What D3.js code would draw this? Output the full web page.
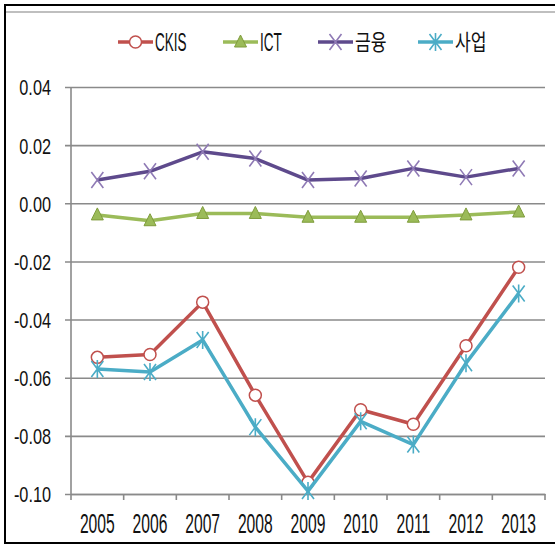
<!DOCTYPE html>
<html><head><meta charset="utf-8">
<script src="https://cdn.jsdelivr.net/npm/d3@7"></script>
<style>
body{margin:0;background:#fff;}
text{font-family:"Liberation Sans","Noto Sans CJK KR",sans-serif;fill:#111;}
</style></head>
<body><svg id="c" width="555" height="548"></svg>
<script>
const years = ["2005","2006","2007","2008","2009","2010","2011","2012","2013"];
const ckis = [-0.053,-0.052,-0.034,-0.066,-0.096,-0.071,-0.076,-0.049,-0.022];
const ict = [-0.004,-0.006,-0.0035,-0.0035,-0.0048,-0.0048,-0.0048,-0.004,-0.003];
const finance = [0.008,0.011,0.0177,0.0154,0.008,0.0085,0.012,0.009,0.012];
const business = [-0.057,-0.058,-0.047,-0.077,-0.099,-0.075,-0.083,-0.055,-0.031];
const yTicks = [0.04,0.02,0.00,-0.02,-0.04,-0.06,-0.08,-0.10];
const seriesNames = ["CKIS","ICT","금융","사업"];

const series = [
  {name:seriesNames[0], values:ckis, color:"#c0504d", marker:"circle"},
  {name:seriesNames[1], values:ict, color:"#9bbb59", marker:"triangle"},
  {name:seriesNames[2], values:finance, color:"#5e4a8c", mcolor:"#8f7ab5", marker:"x"},
  {name:seriesNames[3], values:business, color:"#4bacc6", marker:"star"}
];

const svg = d3.select("#c");
// frame
svg.append("rect").attr("x",5).attr("y",5).attr("width",560).attr("height",538)
  .attr("fill","none").attr("stroke","#000").attr("stroke-width",2);
svg.append("line").attr("x1",6).attr("x2",555).attr("y1",12).attr("y2",12)
  .attr("stroke","#aaa").attr("stroke-width",1.5);

const x = d3.scaleBand().domain(years).range([71,545]);
const y = d3.scaleLinear().domain([-0.10,0.04]).range([494,87]);

// gridlines + y labels
const yR = 0.74;
const yAxis = d3.axisLeft(y).tickValues(yTicks).tickSize(-(545-65)).tickPadding(0);
const gy = svg.append("g").attr("transform","translate(65,0)").call(yAxis);
gy.select(".domain").remove();
gy.selectAll(".tick line").attr("stroke","#8a8a8a").attr("stroke-width",1.6);
gy.selectAll(".tick text").attr("font-size",22).attr("x",0).attr("dy","0.36em")
  .attr("transform",`translate(-14,0) scale(${yR},1)`)
  .text(d=>d3.format(".2f")(d).replace("\u2212","-"));
// y axis line
svg.append("line").attr("x1",71).attr("x2",71).attr("y1",87).attr("y2",494).attr("stroke","#8a8a8a").attr("stroke-width",1.6);

// x axis
const xR = 0.58;
const xAxis = d3.axisBottom(x).tickSize(0);
const gx = svg.append("g").attr("transform","translate(0,494)").call(xAxis);
gx.select(".domain").attr("stroke","#8a8a8a").attr("stroke-width",1.6);
gx.selectAll(".tick text").attr("font-size",27).attr("y",0).attr("dy","0.36em")
  .attr("transform",`translate(0,29) scale(${xR},1)`);
// category boundary ticks
const bounds = years.map(d=>x(d)).concat([x.range()[1]]);
svg.append("g").selectAll("line").data(bounds).join("line")
  .attr("x1",d=>d).attr("x2",d=>d).attr("y1",494).attr("y2",500)
  .attr("stroke","#8a8a8a").attr("stroke-width",1.6);

const cx = d => x(d) + x.bandwidth()/2;
const line = d3.line().x((d,i)=>cx(years[i])).y(d=>y(d));

function drawMarker(g, type, color, mcolor){
  if(type==="circle"){
    g.append("circle").attr("r",6).attr("fill","#fff").attr("stroke",color).attr("stroke-width",1.5);
  } else if(type==="triangle"){
    g.append("path").attr("d","M0,-7L6,5L-6,5Z").attr("fill",color).attr("stroke","#7f9c3c").attr("stroke-width",1);
  } else if(type==="x"){
    g.append("path").attr("d","M-6,-8L6,8M6,-8L-6,8").attr("stroke",mcolor).attr("stroke-width",1.6);
  } else if(type==="star"){
    g.append("path").attr("d","M-6,-8L6,8M6,-8L-6,8M0,-9L0,9").attr("stroke",color).attr("stroke-width",1.6);
  }
}

series.forEach(s=>{
  svg.append("path").datum(s.values).attr("d",line).attr("fill","none")
    .attr("stroke",s.color).attr("stroke-width",3.5).attr("stroke-linejoin","round");
  s.values.forEach((v,i)=>{
    const g = svg.append("g").attr("transform",`translate(${cx(years[i])},${y(v)})`);
    drawMarker(g, s.marker, s.color, s.mcolor||s.color);
  });
});

// legend
const legendX = [118,223,318,418];
series.forEach((s,i)=>{
  const g = svg.append("g").attr("transform",`translate(${legendX[i]},42)`);
  g.append("line").attr("x1",0).attr("x2",35).attr("y1",0).attr("y2",0).attr("stroke",s.color).attr("stroke-width",3.5);
  const m = g.append("g").attr("transform","translate(17.5,0)");
  drawMarker(m, s.marker, s.color, s.mcolor||s.color);
  const r = i<2 ? 0.52 : 0.78;
  g.append("text").attr("x",0).attr("y",0).attr("dy","0.36em")
    .attr("transform",`translate(37,0) scale(${r},1)`)
    .attr("font-size", i<2 ? 26 : 22).text(s.name);
});
</script></body></html>
